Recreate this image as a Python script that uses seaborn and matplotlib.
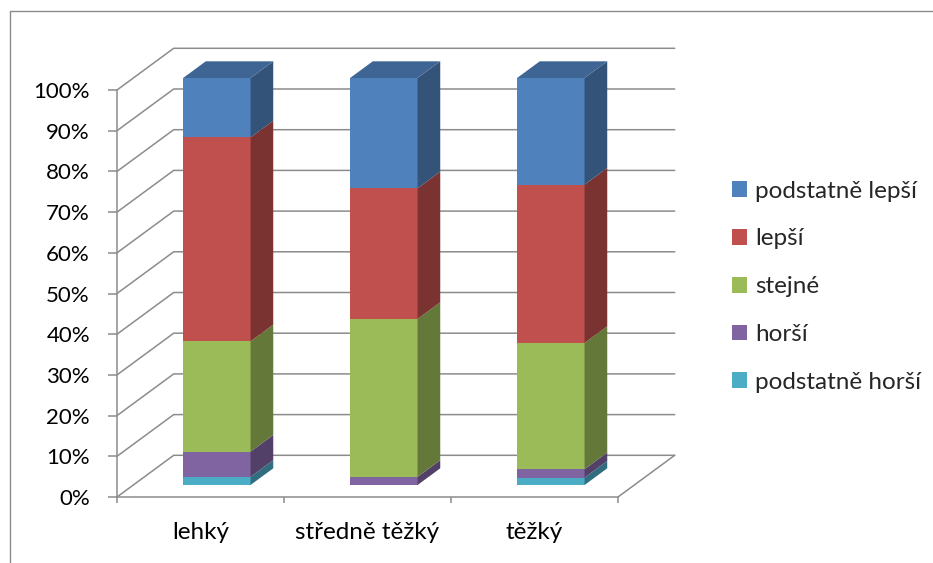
import numpy as np
import pandas as pd
import seaborn as sns
import matplotlib
matplotlib.use("Agg")
import matplotlib.pyplot as plt
import matplotlib.transforms as mtransforms
from matplotlib.patches import Polygon
from matplotlib.lines import Line2D

# --- data (percent of answers per group) ---
categories = ["lehký", "středně těžký", "těžký"]
series = ["podstatně horší", "horší", "stejné", "lepší", "podstatně lepší"]
podstatne_horsi = [2.0, 0.0, 1.8]
horsi = [6.2, 2.0, 2.1]
stejne = [27.1, 38.8, 31.0]
lepsi = [50.1, 32.1, 38.9]
podstatne_lepsi = [14.6, 27.1, 26.2]
colors = ["#4BACC6", "#8064A2", "#9BBB59", "#C0504D", "#4F81BD"]

values = np.array([podstatne_horsi, horsi, stejne, lepsi, podstatne_lepsi])
cum = np.cumsum(values, axis=0)

sns.set_theme(style="white")
plt.rcParams["font.family"] = ["Lato", "DejaVu Sans"]

W_PX, H_PX = 933, 563
fig = plt.figure(figsize=(W_PX / 100, H_PX / 100), dpi=100)
fig.patch.set_facecolor("white")

# axes = front plane of the 3-D box
x0, x1, y0, y1 = 117, 618, 497, 90
ax = fig.add_axes([x0 / W_PX, (H_PX - y0) / H_PX, (x1 - x0) / W_PX, (y0 - y1) / H_PX])
ax.set_facecolor("none")

grid_c = "#8c8c8c"
grid_lw = 1.1

# depth vector in data units (one full depth of the box)
DX = 56.7 / 167.0
DY = 41.7 / 4.07
f0, f1 = 0.288, 0.688      # bar front / back depth
BW = 0.404                  # bar width (category units)


def darker(c, k):
    r, g, b = matplotlib.colors.to_rgb(c)
    return (r * k, g * k, b * k)


# gridlines on side wall and back wall
for yv in range(0, 101, 10):
    ax.plot([-0.5, -0.5 + DX, 2.5 + DX], [yv, yv + DY, yv + DY],
            color=grid_c, lw=grid_lw, clip_on=False, zorder=1,
            solid_joinstyle="miter")
# right edge of the floor
ax.plot([2.5, 2.5 + DX], [0, DY], color=grid_c, lw=grid_lw, clip_on=False, zorder=1)

# front faces: overlapping cumulative bars, tallest first
for i in reversed(range(len(series))):
    sns.barplot(x=categories, y=cum[i], color=colors[i], saturation=1,
                width=BW, errorbar=None, label=series[i], linewidth=0,
                ax=ax, zorder=3)

shift = mtransforms.Affine2D().translate(f0 * DX, f0 * DY)
for p in ax.patches:
    p.set_transform(shift + ax.transData)
    p.set_clip_on(False)

# side and top faces of each stack
for j in range(len(categories)):
    xr = j + BW / 2
    for i in range(len(series)):
        v = values[i, j]
        if v <= 0:
            continue
        b, t = cum[i, j] - v, cum[i, j]
        side = [(xr + f0 * DX, b + f0 * DY), (xr + f1 * DX, b + f1 * DY),
                (xr + f1 * DX, t + f1 * DY), (xr + f0 * DX, t + f0 * DY)]
        ax.add_patch(Polygon(side, closed=True, facecolor=darker(colors[i], 0.64),
                             edgecolor="none", clip_on=False, zorder=3))
    top_i = max(i for i in range(len(series)) if values[i, j] > 0)
    ttop = cum[top_i, j]
    xl = j - BW / 2
    top = [(xl + f0 * DX, ttop + f0 * DY), (xr + f0 * DX, ttop + f0 * DY),
           (xr + f1 * DX, ttop + f1 * DY), (xl + f1 * DX, ttop + f1 * DY)]
    ax.add_patch(Polygon(top, closed=True, facecolor=darker(colors[top_i], 0.78),
                         edgecolor="none", clip_on=False, zorder=3))

ax.set_xlim(-0.5, 2.5)
ax.set_ylim(0, 100)

for s in ["top", "right"]:
    ax.spines[s].set_visible(False)
for s in ["left", "bottom"]:
    ax.spines[s].set_color(grid_c)
    ax.spines[s].set_linewidth(grid_lw)
    ax.spines[s].set_zorder(2)

ax.set_yticks(range(0, 101, 10))
ax.set_yticklabels([f"{v}%" for v in range(0, 101, 10)])
ax.tick_params(axis="y", direction="out", length=6.5, width=grid_lw,
               color=grid_c, pad=13, labelsize=16, labelcolor="black", left=True)

ax.set_xticks(range(len(categories)))
ax.set_xticklabels(categories)
ax.set_xticks([-0.5, 0.5, 1.5, 2.5], minor=True)
ax.tick_params(axis="x", which="major", length=0, pad=18, labelsize=17.5,
               labelcolor="black", bottom=True)
ax.tick_params(axis="x", which="minor", direction="out", length=4.3,
               width=grid_lw, color=grid_c, bottom=True)
ax.set_xlabel("")
ax.set_ylabel("")

handles, labels = ax.get_legend_handles_labels()
leg = ax.legend(handles, labels, loc="upper left",
                bbox_to_anchor=(722 / W_PX, 1 - 171 / H_PX),
                bbox_transform=fig.transFigure, frameon=False, fontsize=17.5,
                handlelength=0.62, handleheight=0.62, handletextpad=0.33,
                labelspacing=1.1, borderaxespad=0)

# outer chart frame
fig.add_artist(Line2D([10 / W_PX, 10 / W_PX, 1.0], [0.0, 1 - 11 / H_PX, 1 - 11 / H_PX],
                      transform=fig.transFigure, color="#8a8a8a", lw=1.0))

fig.savefig("out.png", dpi=100, facecolor="white")
